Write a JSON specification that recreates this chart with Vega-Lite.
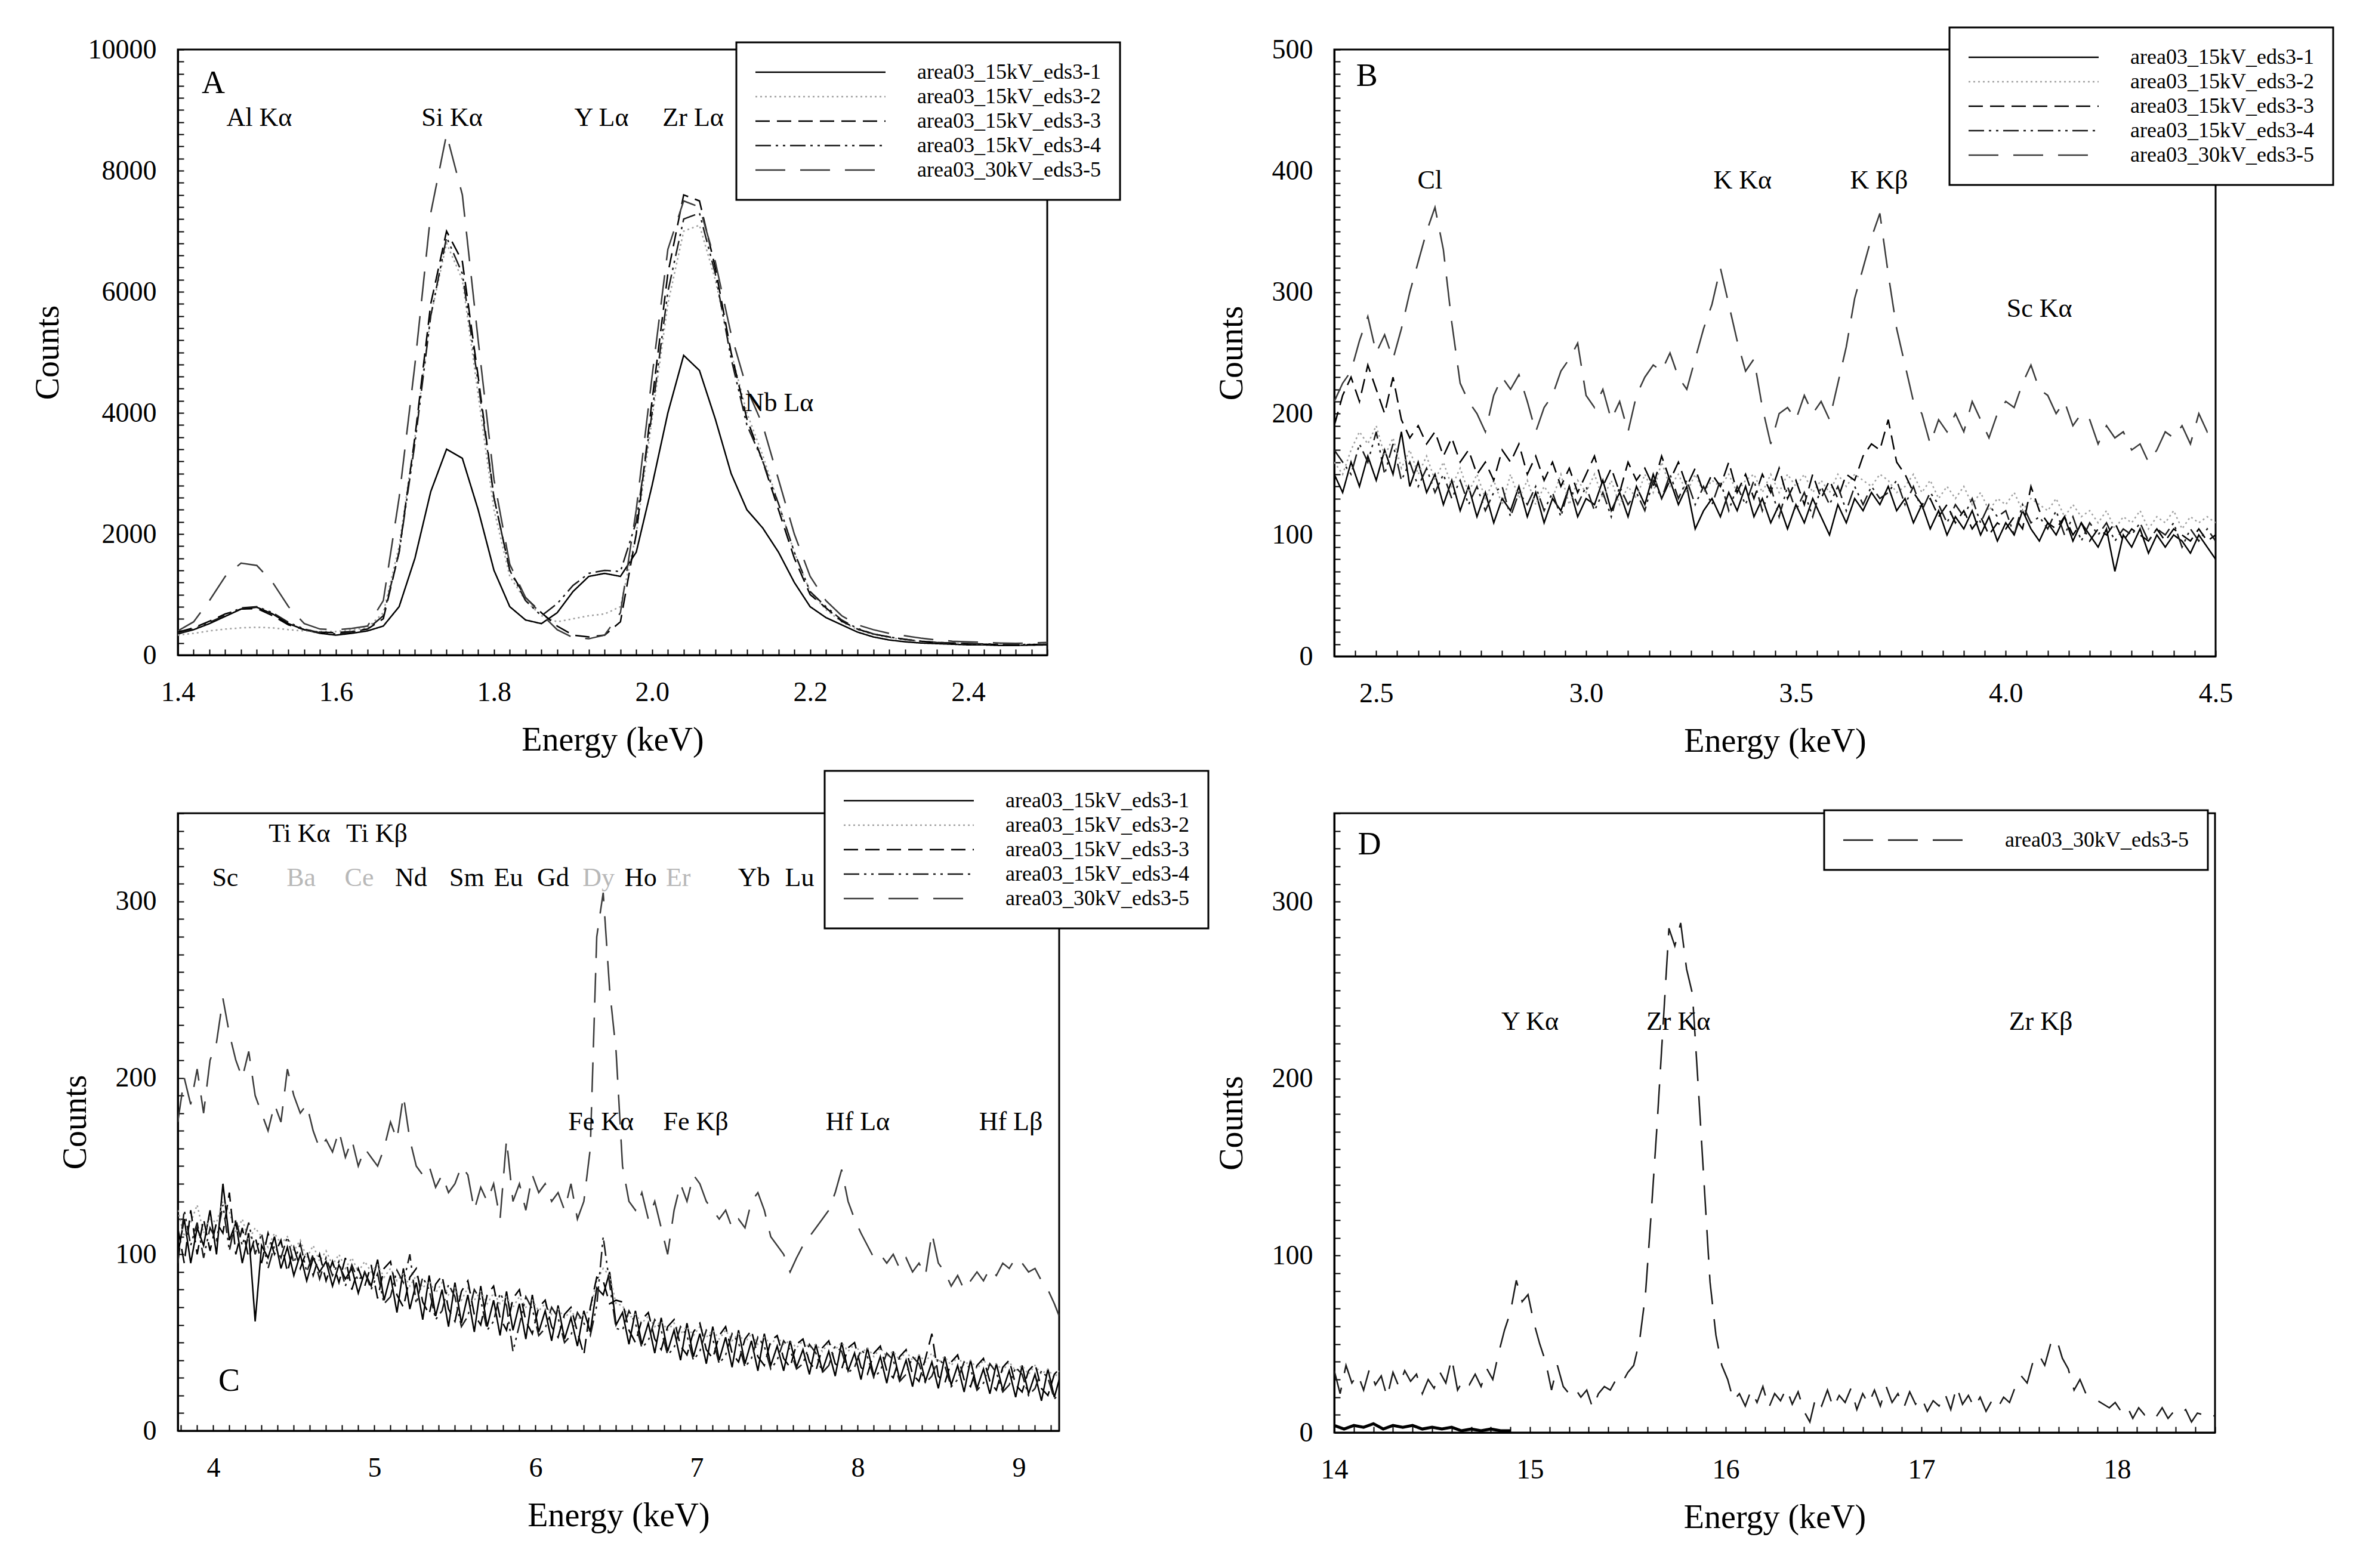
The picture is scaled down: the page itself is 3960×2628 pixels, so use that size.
{
  "$schema": "https://vega.github.io/schema/vega-lite/v6.json",
  "background": "white",
  "padding": {"left": 50, "top": 43, "right": 10, "bottom": 30},
  "config": {
    "font": "Liberation Serif",
    "view": {"stroke": "black", "strokeWidth": 3},
    "axis": {
      "grid": false,
      "domainColor": "black",
      "domainWidth": 3,
      "tickColor": "black",
      "tickWidth": 2,
      "tickSize": -10,
      "labelFont": "Liberation Serif",
      "labelFontSize": 46,
      "labelColor": "black",
      "labelFlush": false,
      "labelOverlap": false,
      "labelBound": false,
      "titleFont": "Liberation Serif",
      "titleFontSize": 56,
      "titleFontWeight": "normal",
      "titleColor": "black"
    },
    "axisX": {"labelPadding": 50, "titlePadding": 30},
    "axisY": {"labelPadding": 46, "titlePadding": 38},
    "legend": {
      "orient": "none",
      "symbolSize": 587,
      "symbolStrokeWidth": 3,
      "symbolOffset": 91,
      "labelFont": "Liberation Serif",
      "labelFontSize": 36,
      "labelColor": "black",
      "labelLimit": 800,
      "labelOffset": 144,
      "padding": 32,
      "rowPadding": 5,
      "strokeColor": "black",
      "strokeWidth": 3,
      "fillColor": "white"
    },
    "line": {"strokeWidth": 2.5},
    "text": {"font": "Liberation Serif", "fontSize": 44, "baseline": "middle", "align": "center", "color": "black"}
  },
  "datasets": {
    "a": [
      {"x":1.40,"s1":350,"s2":330,"s3":380,"s4":360,"s5":400},
      {"x":1.42,"s1":420,"s2":360,"s3":450,"s4":430,"s5":550},
      {"x":1.44,"s1":520,"s2":400,"s3":560,"s4":540,"s5":900},
      {"x":1.46,"s1":640,"s2":430,"s3":680,"s4":660,"s5":1300},
      {"x":1.48,"s1":760,"s2":450,"s3":760,"s4":780,"s5":1520},
      {"x":1.50,"s1":790,"s2":460,"s3":770,"s4":800,"s5":1480},
      {"x":1.52,"s1":680,"s2":450,"s3":650,"s4":700,"s5":1200},
      {"x":1.54,"s1":520,"s2":420,"s3":500,"s4":540,"s5":800},
      {"x":1.56,"s1":420,"s2":400,"s3":420,"s4":430,"s5":520},
      {"x":1.58,"s1":360,"s2":390,"s3":380,"s4":370,"s5":430},
      {"x":1.60,"s1":330,"s2":390,"s3":370,"s4":350,"s5":420},
      {"x":1.62,"s1":360,"s2":420,"s3":390,"s4":380,"s5":440},
      {"x":1.64,"s1":400,"s2":450,"s3":430,"s4":430,"s5":480},
      {"x":1.66,"s1":480,"s2":700,"s3":600,"s4":650,"s5":900},
      {"x":1.68,"s1":800,"s2":1800,"s3":1700,"s4":1700,"s5":2600},
      {"x":1.70,"s1":1600,"s2":3600,"s3":3600,"s4":3500,"s5":4800},
      {"x":1.72,"s1":2700,"s2":5600,"s3":5800,"s4":5600,"s5":7300},
      {"x":1.74,"s1":3400,"s2":6800,"s3":7000,"s4":6900,"s5":8600},
      {"x":1.76,"s1":3250,"s2":6200,"s3":6500,"s4":6300,"s5":7600},
      {"x":1.78,"s1":2400,"s2":4300,"s3":4600,"s4":4500,"s5":5200},
      {"x":1.80,"s1":1400,"s2":2400,"s3":2600,"s4":2600,"s5":2900},
      {"x":1.82,"s1":800,"s2":1300,"s3":1400,"s4":1400,"s5":1500},
      {"x":1.84,"s1":580,"s2":900,"s3":950,"s4":900,"s5":950},
      {"x":1.86,"s1":520,"s2":650,"s3":700,"s4":650,"s5":680},
      {"x":1.88,"s1":700,"s2":550,"s3":480,"s4":850,"s5":420},
      {"x":1.90,"s1":1050,"s2":600,"s3":330,"s4":1150,"s5":290},
      {"x":1.92,"s1":1300,"s2":650,"s3":300,"s4":1350,"s5":270},
      {"x":1.94,"s1":1350,"s2":680,"s3":330,"s4":1400,"s5":330},
      {"x":1.96,"s1":1300,"s2":800,"s3":550,"s4":1380,"s5":700},
      {"x":1.98,"s1":1700,"s2":2000,"s3":2000,"s4":2200,"s5":2400},
      {"x":2.00,"s1":2800,"s2":3900,"s3":4200,"s4":4000,"s5":4600},
      {"x":2.02,"s1":4000,"s2":5800,"s3":6300,"s4":6000,"s5":6700},
      {"x":2.04,"s1":4950,"s2":7000,"s3":7600,"s4":7200,"s5":7500},
      {"x":2.06,"s1":4700,"s2":7100,"s3":7500,"s4":7300,"s5":7400},
      {"x":2.08,"s1":3900,"s2":6200,"s3":6400,"s4":6300,"s5":6500},
      {"x":2.10,"s1":3000,"s2":5000,"s3":5000,"s4":4900,"s5":5300},
      {"x":2.12,"s1":2400,"s2":4000,"s3":3900,"s4":3800,"s5":4400},
      {"x":2.14,"s1":2100,"s2":3300,"s3":3200,"s4":3200,"s5":3800},
      {"x":2.16,"s1":1700,"s2":2500,"s3":2400,"s4":2500,"s5":2900},
      {"x":2.18,"s1":1200,"s2":1700,"s3":1600,"s4":1700,"s5":2000},
      {"x":2.20,"s1":800,"s2":1050,"s3":1000,"s4":1050,"s5":1300},
      {"x":2.22,"s1":620,"s2":750,"s3":780,"s4":800,"s5":900},
      {"x":2.24,"s1":500,"s2":550,"s3":560,"s4":580,"s5":650},
      {"x":2.26,"s1":380,"s2":420,"s3":430,"s4":440,"s5":500},
      {"x":2.28,"s1":300,"s2":340,"s3":350,"s4":350,"s5":420},
      {"x":2.30,"s1":250,"s2":290,"s3":300,"s4":300,"s5":360},
      {"x":2.32,"s1":220,"s2":250,"s3":260,"s4":260,"s5":320},
      {"x":2.34,"s1":200,"s2":230,"s3":230,"s4":230,"s5":280},
      {"x":2.36,"s1":190,"s2":210,"s3":210,"s4":210,"s5":250},
      {"x":2.38,"s1":180,"s2":200,"s3":200,"s4":200,"s5":230},
      {"x":2.40,"s1":170,"s2":190,"s3":190,"s4":190,"s5":220},
      {"x":2.42,"s1":170,"s2":180,"s3":180,"s4":185,"s5":210},
      {"x":2.44,"s1":160,"s2":180,"s3":175,"s4":180,"s5":200},
      {"x":2.46,"s1":160,"s2":175,"s3":170,"s4":175,"s5":195},
      {"x":2.48,"s1":165,"s2":180,"s3":175,"s4":175,"s5":200},
      {"x":2.50,"s1":170,"s2":180,"s3":180,"s4":180,"s5":210}
    ],
    "b": [
      {"x":2.40,"s1":150,"s2":160,"s3":190,"s4":170,"s5":210},
      {"x":2.42,"s1":135,"s2":150,"s3":215,"s4":160,"s5":225},
      {"x":2.44,"s1":160,"s2":170,"s3":230,"s4":150,"s5":235},
      {"x":2.46,"s1":140,"s2":185,"s3":210,"s4":175,"s5":260},
      {"x":2.48,"s1":165,"s2":175,"s3":240,"s4":160,"s5":280},
      {"x":2.50,"s1":145,"s2":190,"s3":220,"s4":185,"s5":250},
      {"x":2.52,"s1":170,"s2":165,"s3":200,"s4":150,"s5":265},
      {"x":2.54,"s1":150,"s2":180,"s3":230,"s4":175,"s5":245},
      {"x":2.56,"s1":185,"s2":155,"s3":195,"s4":145,"s5":270},
      {"x":2.58,"s1":140,"s2":170,"s3":180,"s4":160,"s5":300},
      {"x":2.60,"s1":160,"s2":150,"s3":190,"s4":140,"s5":325},
      {"x":2.62,"s1":135,"s2":165,"s3":175,"s4":155,"s5":350},
      {"x":2.64,"s1":150,"s2":145,"s3":185,"s4":135,"s5":370},
      {"x":2.66,"s1":125,"s2":160,"s3":165,"s4":150,"s5":335},
      {"x":2.68,"s1":145,"s2":140,"s3":180,"s4":130,"s5":275},
      {"x":2.70,"s1":120,"s2":155,"s3":160,"s4":145,"s5":225},
      {"x":2.72,"s1":140,"s2":135,"s3":170,"s4":125,"s5":210},
      {"x":2.74,"s1":115,"s2":150,"s3":150,"s4":140,"s5":200},
      {"x":2.76,"s1":135,"s2":130,"s3":160,"s4":120,"s5":185},
      {"x":2.78,"s1":110,"s2":145,"s3":145,"s4":135,"s5":215},
      {"x":2.80,"s1":130,"s2":125,"s3":170,"s4":140,"s5":230},
      {"x":2.82,"s1":120,"s2":150,"s3":160,"s4":115,"s5":220},
      {"x":2.84,"s1":140,"s2":130,"s3":175,"s4":135,"s5":232},
      {"x":2.86,"s1":115,"s2":145,"s3":150,"s4":125,"s5":210},
      {"x":2.88,"s1":135,"s2":125,"s3":165,"s4":140,"s5":185},
      {"x":2.90,"s1":110,"s2":140,"s3":145,"s4":120,"s5":205},
      {"x":2.92,"s1":130,"s2":130,"s3":160,"s4":135,"s5":215},
      {"x":2.94,"s1":120,"s2":150,"s3":140,"s4":115,"s5":235},
      {"x":2.96,"s1":140,"s2":125,"s3":155,"s4":140,"s5":245},
      {"x":2.98,"s1":115,"s2":145,"s3":135,"s4":125,"s5":258},
      {"x":3.00,"s1":130,"s2":135,"s3":150,"s4":140,"s5":215},
      {"x":3.02,"s1":125,"s2":150,"s3":165,"s4":120,"s5":205},
      {"x":3.04,"s1":145,"s2":130,"s3":140,"s4":135,"s5":220},
      {"x":3.06,"s1":120,"s2":145,"s3":155,"s4":115,"s5":195},
      {"x":3.08,"s1":135,"s2":125,"s3":135,"s4":140,"s5":210},
      {"x":3.10,"s1":115,"s2":140,"s3":160,"s4":125,"s5":185},
      {"x":3.12,"s1":140,"s2":130,"s3":145,"s4":135,"s5":215},
      {"x":3.14,"s1":125,"s2":150,"s3":155,"s4":120,"s5":230},
      {"x":3.16,"s1":150,"s2":135,"s3":140,"s4":145,"s5":240},
      {"x":3.18,"s1":130,"s2":160,"s3":165,"s4":130,"s5":235},
      {"x":3.20,"s1":145,"s2":140,"s3":145,"s4":150,"s5":250},
      {"x":3.22,"s1":125,"s2":150,"s3":160,"s4":130,"s5":230},
      {"x":3.24,"s1":140,"s2":135,"s3":140,"s4":145,"s5":220},
      {"x":3.26,"s1":105,"s2":150,"s3":155,"s4":125,"s5":245},
      {"x":3.28,"s1":120,"s2":135,"s3":135,"s4":140,"s5":270},
      {"x":3.30,"s1":130,"s2":145,"s3":150,"s4":125,"s5":290},
      {"x":3.32,"s1":115,"s2":140,"s3":140,"s4":145,"s5":320},
      {"x":3.34,"s1":135,"s2":150,"s3":160,"s4":120,"s5":290},
      {"x":3.36,"s1":120,"s2":135,"s3":135,"s4":140,"s5":260},
      {"x":3.38,"s1":140,"s2":145,"s3":150,"s4":125,"s5":235},
      {"x":3.40,"s1":115,"s2":150,"s3":130,"s4":145,"s5":245},
      {"x":3.42,"s1":130,"s2":135,"s3":150,"s4":120,"s5":205},
      {"x":3.44,"s1":110,"s2":150,"s3":135,"s4":140,"s5":175},
      {"x":3.46,"s1":125,"s2":135,"s3":155,"s4":115,"s5":200},
      {"x":3.48,"s1":105,"s2":150,"s3":130,"s4":140,"s5":205},
      {"x":3.50,"s1":125,"s2":140,"s3":145,"s4":120,"s5":195},
      {"x":3.52,"s1":110,"s2":150,"s3":125,"s4":135,"s5":215},
      {"x":3.54,"s1":130,"s2":135,"s3":150,"s4":115,"s5":200},
      {"x":3.56,"s1":115,"s2":145,"s3":130,"s4":140,"s5":210},
      {"x":3.58,"s1":100,"s2":135,"s3":145,"s4":125,"s5":195},
      {"x":3.60,"s1":125,"s2":150,"s3":130,"s4":140,"s5":225},
      {"x":3.62,"s1":110,"s2":140,"s3":150,"s4":120,"s5":255},
      {"x":3.64,"s1":130,"s2":150,"s3":145,"s4":140,"s5":295},
      {"x":3.66,"s1":120,"s2":145,"s3":165,"s4":125,"s5":320},
      {"x":3.68,"s1":135,"s2":140,"s3":175,"s4":140,"s5":345},
      {"x":3.70,"s1":125,"s2":150,"s3":170,"s4":130,"s5":365},
      {"x":3.72,"s1":140,"s2":145,"s3":195,"s4":135,"s5":315},
      {"x":3.74,"s1":120,"s2":135,"s3":160,"s4":145,"s5":270},
      {"x":3.76,"s1":130,"s2":140,"s3":150,"s4":125,"s5":240},
      {"x":3.78,"s1":110,"s2":150,"s3":135,"s4":140,"s5":210},
      {"x":3.80,"s1":125,"s2":135,"s3":125,"s4":120,"s5":200},
      {"x":3.82,"s1":105,"s2":145,"s3":130,"s4":135,"s5":175},
      {"x":3.84,"s1":120,"s2":130,"s3":115,"s4":125,"s5":195},
      {"x":3.86,"s1":100,"s2":140,"s3":125,"s4":110,"s5":185},
      {"x":3.88,"s1":115,"s2":130,"s3":110,"s4":125,"s5":200},
      {"x":3.90,"s1":105,"s2":140,"s3":120,"s4":115,"s5":185},
      {"x":3.92,"s1":120,"s2":125,"s3":105,"s4":130,"s5":210},
      {"x":3.94,"s1":100,"s2":135,"s3":115,"s4":110,"s5":195},
      {"x":3.96,"s1":115,"s2":120,"s3":100,"s4":125,"s5":180},
      {"x":3.98,"s1":95,"s2":130,"s3":110,"s4":115,"s5":200},
      {"x":4.00,"s1":110,"s2":125,"s3":105,"s4":120,"s5":210},
      {"x":4.02,"s1":100,"s2":135,"s3":115,"s4":100,"s5":205},
      {"x":4.04,"s1":120,"s2":120,"s3":105,"s4":125,"s5":225},
      {"x":4.06,"s1":105,"s2":130,"s3":140,"s4":110,"s5":240},
      {"x":4.08,"s1":95,"s2":125,"s3":120,"s4":115,"s5":220},
      {"x":4.10,"s1":110,"s2":120,"s3":110,"s4":105,"s5":215},
      {"x":4.12,"s1":100,"s2":130,"s3":105,"s4":120,"s5":200},
      {"x":4.14,"s1":115,"s2":115,"s3":115,"s4":100,"s5":210},
      {"x":4.16,"s1":95,"s2":125,"s3":100,"s4":115,"s5":190},
      {"x":4.18,"s1":110,"s2":115,"s3":110,"s4":95,"s5":200},
      {"x":4.20,"s1":100,"s2":120,"s3":95,"s4":110,"s5":195},
      {"x":4.22,"s1":90,"s2":110,"s3":105,"s4":100,"s5":175},
      {"x":4.24,"s1":105,"s2":120,"s3":100,"s4":110,"s5":190},
      {"x":4.26,"s1":70,"s2":105,"s3":110,"s4":95,"s5":180},
      {"x":4.28,"s1":100,"s2":115,"s3":95,"s4":105,"s5":185},
      {"x":4.30,"s1":90,"s2":110,"s3":105,"s4":100,"s5":170},
      {"x":4.32,"s1":105,"s2":120,"s3":100,"s4":110,"s5":175},
      {"x":4.34,"s1":85,"s2":105,"s3":95,"s4":95,"s5":160},
      {"x":4.36,"s1":100,"s2":115,"s3":105,"s4":105,"s5":170},
      {"x":4.38,"s1":90,"s2":110,"s3":95,"s4":100,"s5":185},
      {"x":4.40,"s1":100,"s2":120,"s3":105,"s4":110,"s5":180},
      {"x":4.42,"s1":95,"s2":105,"s3":100,"s4":90,"s5":190},
      {"x":4.44,"s1":85,"s2":115,"s3":95,"s4":105,"s5":175},
      {"x":4.46,"s1":100,"s2":110,"s3":105,"s4":95,"s5":200},
      {"x":4.48,"s1":90,"s2":115,"s3":95,"s4":105,"s5":185},
      {"x":4.50,"s1":80,"s2":110,"s3":100,"s4":95,"s5":195}
    ],
    "c": [
      {"x":3.78,"s1":100,"s2":125,"s3":115,"s4":95,"s5":175},
      {"x":3.82,"s1":120,"s2":110,"s3":95,"s4":125,"s5":200},
      {"x":3.86,"s1":95,"s2":118,"s3":125,"s4":105,"s5":185},
      {"x":3.90,"s1":115,"s2":128,"s3":100,"s4":118,"s5":205},
      {"x":3.94,"s1":105,"s2":112,"s3":120,"s4":98,"s5":180},
      {"x":3.98,"s1":125,"s2":120,"s3":102,"s4":115,"s5":210},
      {"x":4.02,"s1":100,"s2":118,"s3":118,"s4":108,"s5":220},
      {"x":4.06,"s1":140,"s2":130,"s3":112,"s4":128,"s5":245},
      {"x":4.10,"s1":108,"s2":124,"s3":135,"s4":102,"s5":225},
      {"x":4.14,"s1":118,"s2":112,"s3":100,"s4":120,"s5":210},
      {"x":4.18,"s1":95,"s2":120,"s3":115,"s4":105,"s5":200},
      {"x":4.22,"s1":112,"s2":108,"s3":98,"s4":118,"s5":215},
      {"x":4.26,"s1":62,"s2":115,"s3":110,"s4":100,"s5":190},
      {"x":4.30,"s1":105,"s2":110,"s3":95,"s4":112,"s5":180},
      {"x":4.34,"s1":98,"s2":104,"s3":112,"s4":92,"s5":170},
      {"x":4.38,"s1":110,"s2":112,"s3":100,"s4":105,"s5":185},
      {"x":4.42,"s1":92,"s2":106,"s3":108,"s4":98,"s5":175},
      {"x":4.46,"s1":104,"s2":110,"s3":90,"s4":110,"s5":205},
      {"x":4.50,"s1":88,"s2":102,"s3":104,"s4":95,"s5":190},
      {"x":4.54,"s1":100,"s2":108,"s3":92,"s4":106,"s5":180},
      {"x":4.58,"s1":85,"s2":98,"s3":102,"s4":90,"s5":185},
      {"x":4.62,"s1":98,"s2":105,"s3":88,"s4":100,"s5":170},
      {"x":4.66,"s1":90,"s2":96,"s3":100,"s4":86,"s5":160},
      {"x":4.70,"s1":96,"s2":102,"s3":85,"s4":98,"s5":165},
      {"x":4.74,"s1":82,"s2":94,"s3":96,"s4":88,"s5":158},
      {"x":4.78,"s1":94,"s2":100,"s3":84,"s4":96,"s5":170},
      {"x":4.82,"s1":86,"s2":92,"s3":98,"s4":82,"s5":155},
      {"x":4.86,"s1":92,"s2":98,"s3":80,"s4":94,"s5":165},
      {"x":4.90,"s1":78,"s2":90,"s3":92,"s4":85,"s5":150},
      {"x":4.94,"s1":90,"s2":96,"s3":82,"s4":90,"s5":160},
      {"x":4.98,"s1":82,"s2":90,"s3":94,"s4":80,"s5":155},
      {"x":5.02,"s1":97,"s2":94,"s3":75,"s4":89,"s5":150},
      {"x":5.06,"s1":74,"s2":87,"s3":92,"s4":72,"s5":160},
      {"x":5.10,"s1":88,"s2":92,"s3":96,"s4":76,"s5":175},
      {"x":5.14,"s1":67,"s2":85,"s3":77,"s4":91,"s5":165},
      {"x":5.18,"s1":92,"s2":89,"s3":70,"s4":84,"s5":190},
      {"x":5.22,"s1":69,"s2":82,"s3":87,"s4":100,"s5":165},
      {"x":5.26,"s1":84,"s2":88,"s3":92,"s4":72,"s5":150},
      {"x":5.30,"s1":63,"s2":81,"s3":73,"s4":87,"s5":145},
      {"x":5.34,"s1":88,"s2":85,"s3":66,"s4":80,"s5":150},
      {"x":5.38,"s1":65,"s2":78,"s3":83,"s4":63,"s5":138},
      {"x":5.42,"s1":80,"s2":84,"s3":88,"s4":68,"s5":145},
      {"x":5.46,"s1":59,"s2":77,"s3":69,"s4":83,"s5":135},
      {"x":5.50,"s1":84,"s2":81,"s3":62,"s4":76,"s5":140},
      {"x":5.54,"s1":61,"s2":74,"s3":79,"s4":59,"s5":150},
      {"x":5.58,"s1":77,"s2":81,"s3":85,"s4":65,"s5":145},
      {"x":5.62,"s1":56,"s2":74,"s3":66,"s4":80,"s5":125},
      {"x":5.66,"s1":82,"s2":79,"s3":60,"s4":74,"s5":138},
      {"x":5.70,"s1":59,"s2":72,"s3":77,"s4":57,"s5":130},
      {"x":5.74,"s1":74,"s2":78,"s3":82,"s4":62,"s5":140},
      {"x":5.78,"s1":54,"s2":72,"s3":64,"s4":78,"s5":120},
      {"x":5.82,"s1":79,"s2":76,"s3":57,"s4":71,"s5":165},
      {"x":5.86,"s1":57,"s2":70,"s3":75,"s4":45,"s5":130},
      {"x":5.90,"s1":72,"s2":76,"s3":80,"s4":60,"s5":140},
      {"x":5.94,"s1":52,"s2":70,"s3":62,"s4":76,"s5":125},
      {"x":5.98,"s1":77,"s2":74,"s3":55,"s4":69,"s5":145},
      {"x":6.02,"s1":56,"s2":68,"s3":70,"s4":54,"s5":135},
      {"x":6.06,"s1":68,"s2":72,"s3":74,"s4":58,"s5":140},
      {"x":6.10,"s1":51,"s2":66,"s3":59,"s4":70,"s5":130},
      {"x":6.14,"s1":71,"s2":69,"s3":53,"s4":64,"s5":135},
      {"x":6.18,"s1":52,"s2":64,"s3":66,"s4":50,"s5":125},
      {"x":6.22,"s1":64,"s2":68,"s3":70,"s4":54,"s5":140},
      {"x":6.26,"s1":48,"s2":63,"s3":56,"s4":67,"s5":120},
      {"x":6.30,"s1":68,"s2":66,"s3":43,"s4":61,"s5":130},
      {"x":6.34,"s1":56,"s2":68,"s3":70,"s4":54,"s5":160},
      {"x":6.38,"s1":81,"s2":85,"s3":87,"s4":71,"s5":280},
      {"x":6.42,"s1":77,"s2":92,"s3":85,"s4":110,"s5":305},
      {"x":6.46,"s1":90,"s2":88,"s3":72,"s4":83,"s5":250},
      {"x":6.50,"s1":60,"s2":72,"s3":74,"s4":58,"s5":215},
      {"x":6.54,"s1":67,"s2":71,"s3":73,"s4":57,"s5":150},
      {"x":6.58,"s1":49,"s2":64,"s3":57,"s4":68,"s5":130},
      {"x":6.62,"s1":68,"s2":66,"s3":50,"s4":61,"s5":125},
      {"x":6.66,"s1":49,"s2":61,"s3":63,"s4":47,"s5":135},
      {"x":6.70,"s1":61,"s2":65,"s3":67,"s4":51,"s5":120},
      {"x":6.74,"s1":44,"s2":59,"s3":52,"s4":63,"s5":130},
      {"x":6.78,"s1":64,"s2":62,"s3":46,"s4":57,"s5":115},
      {"x":6.82,"s1":45,"s2":57,"s3":59,"s4":43,"s5":100},
      {"x":6.86,"s1":57,"s2":61,"s3":63,"s4":47,"s5":125},
      {"x":6.90,"s1":40,"s2":55,"s3":48,"s4":59,"s5":140},
      {"x":6.94,"s1":61,"s2":59,"s3":43,"s4":54,"s5":130},
      {"x":6.98,"s1":42,"s2":54,"s3":56,"s4":40,"s5":145},
      {"x":7.02,"s1":55,"s2":59,"s3":61,"s4":45,"s5":140},
      {"x":7.06,"s1":38,"s2":53,"s3":46,"s4":57,"s5":130},
      {"x":7.10,"s1":59,"s2":57,"s3":41,"s4":52,"s5":125},
      {"x":7.14,"s1":40,"s2":52,"s3":54,"s4":38,"s5":120},
      {"x":7.18,"s1":53,"s2":57,"s3":59,"s4":43,"s5":125},
      {"x":7.22,"s1":36,"s2":51,"s3":44,"s4":55,"s5":115},
      {"x":7.26,"s1":57,"s2":55,"s3":39,"s4":50,"s5":120},
      {"x":7.30,"s1":38,"s2":50,"s3":52,"s4":36,"s5":115},
      {"x":7.34,"s1":51,"s2":55,"s3":57,"s4":41,"s5":130},
      {"x":7.38,"s1":34,"s2":49,"s3":42,"s4":53,"s5":135},
      {"x":7.42,"s1":55,"s2":53,"s3":37,"s4":48,"s5":125},
      {"x":7.46,"s1":37,"s2":49,"s3":51,"s4":35,"s5":110},
      {"x":7.50,"s1":48,"s2":53,"s3":54,"s4":40,"s5":105},
      {"x":7.54,"s1":34,"s2":49,"s3":41,"s4":51,"s5":100},
      {"x":7.58,"s1":51,"s2":51,"s3":36,"s4":46,"s5":90},
      {"x":7.62,"s1":36,"s2":47,"s3":49,"s4":35,"s5":98},
      {"x":7.66,"s1":46,"s2":51,"s3":52,"s4":38,"s5":105},
      {"x":7.70,"s1":32,"s2":47,"s3":39,"s4":49,"s5":110},
      {"x":7.74,"s1":49,"s2":49,"s3":34,"s4":44,"s5":115},
      {"x":7.78,"s1":34,"s2":45,"s3":47,"s4":33,"s5":120},
      {"x":7.82,"s1":45,"s2":50,"s3":51,"s4":37,"s5":125},
      {"x":7.86,"s1":31,"s2":46,"s3":38,"s4":48,"s5":135},
      {"x":7.90,"s1":50,"s2":50,"s3":35,"s4":45,"s5":148},
      {"x":7.94,"s1":34,"s2":45,"s3":47,"s4":33,"s5":130},
      {"x":7.98,"s1":44,"s2":49,"s3":50,"s4":36,"s5":120},
      {"x":8.02,"s1":29,"s2":44,"s3":36,"s4":46,"s5":112},
      {"x":8.06,"s1":47,"s2":47,"s3":32,"s4":42,"s5":105},
      {"x":8.10,"s1":31,"s2":42,"s3":44,"s4":30,"s5":98},
      {"x":8.14,"s1":42,"s2":47,"s3":48,"s4":34,"s5":100},
      {"x":8.18,"s1":27,"s2":42,"s3":34,"s4":44,"s5":95},
      {"x":8.22,"s1":45,"s2":45,"s3":30,"s4":40,"s5":100},
      {"x":8.26,"s1":29,"s2":40,"s3":42,"s4":28,"s5":92},
      {"x":8.30,"s1":40,"s2":45,"s3":46,"s4":32,"s5":98},
      {"x":8.34,"s1":25,"s2":40,"s3":32,"s4":42,"s5":90},
      {"x":8.38,"s1":43,"s2":43,"s3":28,"s4":38,"s5":95},
      {"x":8.42,"s1":28,"s2":39,"s3":41,"s4":27,"s5":88},
      {"x":8.46,"s1":39,"s2":44,"s3":55,"s4":31,"s5":112},
      {"x":8.50,"s1":24,"s2":39,"s3":31,"s4":41,"s5":95},
      {"x":8.54,"s1":42,"s2":42,"s3":27,"s4":37,"s5":90},
      {"x":8.58,"s1":26,"s2":37,"s3":39,"s4":25,"s5":82},
      {"x":8.62,"s1":37,"s2":42,"s3":43,"s4":29,"s5":88},
      {"x":8.66,"s1":22,"s2":37,"s3":29,"s4":39,"s5":80},
      {"x":8.70,"s1":40,"s2":40,"s3":25,"s4":35,"s5":85},
      {"x":8.74,"s1":24,"s2":35,"s3":37,"s4":23,"s5":90},
      {"x":8.78,"s1":35,"s2":40,"s3":41,"s4":27,"s5":85},
      {"x":8.82,"s1":21,"s2":36,"s3":28,"s4":38,"s5":92},
      {"x":8.86,"s1":38,"s2":38,"s3":23,"s4":33,"s5":88},
      {"x":8.90,"s1":23,"s2":34,"s3":36,"s4":22,"s5":95},
      {"x":8.94,"s1":34,"s2":39,"s3":40,"s4":26,"s5":92},
      {"x":8.98,"s1":19,"s2":34,"s3":26,"s4":36,"s5":98},
      {"x":9.02,"s1":37,"s2":37,"s3":22,"s4":32,"s5":95},
      {"x":9.06,"s1":21,"s2":32,"s3":34,"s4":20,"s5":90},
      {"x":9.10,"s1":32,"s2":37,"s3":38,"s4":24,"s5":92},
      {"x":9.14,"s1":17,"s2":32,"s3":24,"s4":34,"s5":85},
      {"x":9.18,"s1":35,"s2":35,"s3":20,"s4":30,"s5":80},
      {"x":9.22,"s1":19,"s2":30,"s3":32,"s4":18,"s5":72},
      {"x":9.25,"s1":29,"s2":34,"s3":35,"s4":21,"s5":65}
    ],
    "d": [
      {"x":14.00,"s5":35},{"x":14.03,"s5":22},{"x":14.06,"s5":38},{"x":14.09,"s5":28},{"x":14.12,"s5":33},
      {"x":14.15,"s5":24},{"x":14.18,"s5":36},{"x":14.21,"s5":27},{"x":14.24,"s5":32},{"x":14.27,"s5":20},
      {"x":14.30,"s5":34},{"x":14.33,"s5":26},{"x":14.36,"s5":35},{"x":14.39,"s5":29},{"x":14.42,"s5":33},
      {"x":14.45,"s5":22},{"x":14.48,"s5":30},{"x":14.51,"s5":25},{"x":14.54,"s5":34},{"x":14.57,"s5":28},
      {"x":14.60,"s5":42},{"x":14.63,"s5":24},{"x":14.66,"s5":30},{"x":14.69,"s5":27},{"x":14.72,"s5":33},
      {"x":14.75,"s5":26},{"x":14.78,"s5":36},{"x":14.81,"s5":30},{"x":14.84,"s5":45},{"x":14.87,"s5":58},
      {"x":14.90,"s5":68},{"x":14.93,"s5":86},{"x":14.96,"s5":74},{"x":14.99,"s5":78},{"x":15.02,"s5":62},
      {"x":15.05,"s5":50},{"x":15.08,"s5":40},{"x":15.11,"s5":24},{"x":15.14,"s5":38},{"x":15.17,"s5":26},
      {"x":15.20,"s5":22},{"x":15.23,"s5":25},{"x":15.26,"s5":20},{"x":15.29,"s5":24},{"x":15.32,"s5":14},
      {"x":15.35,"s5":22},{"x":15.38,"s5":26},{"x":15.41,"s5":24},{"x":15.44,"s5":30},{"x":15.47,"s5":28},
      {"x":15.50,"s5":34},{"x":15.53,"s5":38},{"x":15.56,"s5":52},{"x":15.59,"s5":78},{"x":15.62,"s5":125},
      {"x":15.65,"s5":175},{"x":15.68,"s5":230},{"x":15.71,"s5":285},{"x":15.74,"s5":275},{"x":15.77,"s5":288},
      {"x":15.80,"s5":262},{"x":15.83,"s5":248},{"x":15.86,"s5":195},{"x":15.89,"s5":140},{"x":15.92,"s5":85},
      {"x":15.95,"s5":55},{"x":15.98,"s5":38},{"x":16.01,"s5":30},{"x":16.04,"s5":18},{"x":16.07,"s5":22},
      {"x":16.10,"s5":15},{"x":16.13,"s5":24},{"x":16.16,"s5":17},{"x":16.19,"s5":26},{"x":16.22,"s5":14},
      {"x":16.25,"s5":22},{"x":16.28,"s5":18},{"x":16.31,"s5":25},{"x":16.34,"s5":16},{"x":16.37,"s5":23},
      {"x":16.40,"s5":12},{"x":16.43,"s5":6},{"x":16.46,"s5":20},{"x":16.49,"s5":15},{"x":16.52,"s5":24},
      {"x":16.55,"s5":14},{"x":16.58,"s5":21},{"x":16.61,"s5":17},{"x":16.64,"s5":25},{"x":16.67,"s5":13},
      {"x":16.70,"s5":22},{"x":16.73,"s5":16},{"x":16.76,"s5":24},{"x":16.79,"s5":15},{"x":16.82,"s5":26},
      {"x":16.85,"s5":17},{"x":16.88,"s5":22},{"x":16.91,"s5":14},{"x":16.94,"s5":23},{"x":16.97,"s5":16},
      {"x":17.00,"s5":20},{"x":17.03,"s5":12},{"x":17.06,"s5":18},{"x":17.09,"s5":15},{"x":17.12,"s5":22},
      {"x":17.15,"s5":13},{"x":17.18,"s5":26},{"x":17.21,"s5":16},{"x":17.24,"s5":21},{"x":17.27,"s5":14},
      {"x":17.30,"s5":20},{"x":17.33,"s5":12},{"x":17.36,"s5":18},{"x":17.39,"s5":14},{"x":17.42,"s5":20},
      {"x":17.45,"s5":17},{"x":17.48,"s5":26},{"x":17.51,"s5":32},{"x":17.54,"s5":28},{"x":17.57,"s5":40},
      {"x":17.60,"s5":44},{"x":17.63,"s5":38},{"x":17.66,"s5":50},{"x":17.69,"s5":53},{"x":17.72,"s5":42},
      {"x":17.75,"s5":36},{"x":17.78,"s5":24},{"x":17.81,"s5":30},{"x":17.84,"s5":22},{"x":17.87,"s5":20},
      {"x":17.90,"s5":18},{"x":17.93,"s5":16},{"x":17.96,"s5":14},{"x":17.99,"s5":17},{"x":18.02,"s5":12},
      {"x":18.05,"s5":15},{"x":18.08,"s5":8},{"x":18.11,"s5":14},{"x":18.14,"s5":10},{"x":18.17,"s5":12},
      {"x":18.20,"s5":9},{"x":18.23,"s5":14},{"x":18.26,"s5":8},{"x":18.29,"s5":12},{"x":18.32,"s5":10},
      {"x":18.35,"s5":13},{"x":18.38,"s5":6},{"x":18.41,"s5":11},{"x":18.44,"s5":10},{"x":18.47,"s5":12},
      {"x":18.50,"s5":9}
    ],
    "dlow": [
      {"x":14.00,"y":4},{"x":14.05,"y":2},{"x":14.10,"y":4},{"x":14.15,"y":3},{"x":14.20,"y":5},
      {"x":14.25,"y":2},{"x":14.30,"y":4},{"x":14.35,"y":3},{"x":14.40,"y":4},{"x":14.45,"y":2},
      {"x":14.50,"y":3},{"x":14.55,"y":2},{"x":14.60,"y":3},{"x":14.65,"y":1},{"x":14.70,"y":2},
      {"x":14.75,"y":1},{"x":14.80,"y":2},{"x":14.85,"y":1},{"x":14.90,"y":1}
    ],
    "la": [
      {"x":1.503,"y":8870,"t":"Al Kα"},
      {"x":1.747,"y":8870,"t":"Si Kα"},
      {"x":1.936,"y":8870,"t":"Y Lα"},
      {"x":2.052,"y":8870,"t":"Zr Lα"},
      {"x":2.161,"y":4158,"t":"Nb Lα"}
    ],
    "lb": [
      {"x":2.628,"y":392,"t":"Cl"},
      {"x":3.373,"y":392,"t":"K Kα"},
      {"x":3.698,"y":392,"t":"K Kβ"},
      {"x":4.08,"y":286,"t":"Sc Kα"}
    ],
    "lc": [
      {"x":4.535,"y":338,"t":"Ti Kα","tone":"k"},
      {"x":5.015,"y":338,"t":"Ti Kβ","tone":"k"},
      {"x":4.074,"y":313,"t":"Sc","tone":"k"},
      {"x":4.545,"y":313,"t":"Ba","tone":"g"},
      {"x":4.906,"y":313,"t":"Ce","tone":"g"},
      {"x":5.228,"y":313,"t":"Nd","tone":"k"},
      {"x":5.574,"y":313,"t":"Sm","tone":"k"},
      {"x":5.832,"y":313,"t":"Eu","tone":"k"},
      {"x":6.109,"y":313,"t":"Gd","tone":"k"},
      {"x":6.391,"y":313,"t":"Dy","tone":"g"},
      {"x":6.653,"y":313,"t":"Ho","tone":"k"},
      {"x":6.886,"y":313,"t":"Er","tone":"g"},
      {"x":7.356,"y":313,"t":"Yb","tone":"k"},
      {"x":7.639,"y":313,"t":"Lu","tone":"k"},
      {"x":6.406,"y":175,"t":"Fe Kα","tone":"k"},
      {"x":6.995,"y":175,"t":"Fe Kβ","tone":"k"},
      {"x":8.0,"y":175,"t":"Hf Lα","tone":"k"},
      {"x":8.95,"y":175,"t":"Hf Lβ","tone":"k"}
    ],
    "ld": [
      {"x":15.0,"y":232,"t":"Y Kα"},
      {"x":15.758,"y":232,"t":"Zr Kα"},
      {"x":17.61,"y":232,"t":"Zr Kβ"}
    ]
  },
  "columns": 2,
  "bounds": "flush",
  "spacing": {"row": 263, "column": 461},
  "resolve": {
    "scale": {"color": "independent", "strokeDash": "independent", "fill": "independent"},
    "legend": {"color": "independent", "strokeDash": "independent"}
  },
  "concat": [
    {
      "width": 1457,
      "height": 1015,
      "encoding": {
        "x": {
          "field": "x", "type": "quantitative", "title": "Energy (keV)",
          "scale": {"domain": [1.4, 2.5], "nice": false, "zero": false},
          "axis": {"tickCount": 55, "labelExpr": "abs(datum.value*5-round(datum.value*5))<1e-6 ? format(datum.value,'.1f') : ''"}
        },
        "y": {
          "field": "y", "type": "quantitative", "title": "Counts",
          "scale": {"domain": [0, 10000], "nice": false},
          "axis": {"tickCount": 50, "labelExpr": "datum.value % 2000 == 0 ? format(datum.value,'d') : ''"}
        }
      },
      "layer": [
        {
          "data": {"name": "a"},
          "transform": [{"fold": ["s1", "s2", "s3", "s4", "s5"], "as": ["series", "y"]}],
          "mark": {"type": "line", "clip": true},
          "encoding": {
            "color": {
              "field": "series", "type": "nominal",
              "scale": {"domain": ["s1", "s2", "s3", "s4", "s5"], "range": ["#000000", "#a0a0a0", "#000000", "#1a1a1a", "#3a3a3a"]},
              "legend": {"title": null, "symbolType": "M-9,0H9", "legendX": 936, "legendY": -12, "labelExpr": "'area03_' + (datum.label == 's5' ? '30kV' : '15kV') + '_eds3-' + substring(datum.label, 1)"}
            },
            "strokeDash": {
              "field": "series", "type": "nominal",
              "scale": {"domain": ["s1", "s2", "s3", "s4", "s5"], "range": [[1, 0], [3, 5], [24, 12], [26, 8, 4, 8, 4, 8], [50, 25]]},
              "legend": {"title": null, "symbolType": "M-9,0H9", "legendX": 936, "legendY": -12, "labelExpr": "'area03_' + (datum.label == 's5' ? '30kV' : '15kV') + '_eds3-' + substring(datum.label, 1)"}
            }
          }
        },
        {"data": {"name": "la"}, "mark": {"type": "text"}, "encoding": {"text": {"field": "t"}}},
        {"data": {"values": [{"x": 1.445, "y": 9443, "t": "A"}]}, "mark": {"type": "text", "fontSize": 54}, "encoding": {"text": {"field": "t"}}}
      ]
    },
    {
      "width": 1477,
      "height": 1017,
      "encoding": {
        "x": {
          "field": "x", "type": "quantitative", "title": "Energy (keV)",
          "scale": {"domain": [2.4, 4.5], "nice": false, "zero": false},
          "axis": {"tickCount": 42, "labelExpr": "abs(datum.value*2-round(datum.value*2))<1e-6 ? format(datum.value,'.1f') : ''"}
        },
        "y": {
          "field": "y", "type": "quantitative", "title": "Counts",
          "scale": {"domain": [0, 500], "nice": false},
          "axis": {"tickCount": 50, "labelExpr": "datum.value % 100 == 0 ? format(datum.value,'d') : ''"}
        }
      },
      "layer": [
        {
          "data": {"name": "b"},
          "transform": [{"fold": ["s1", "s2", "s3", "s4", "s5"], "as": ["series", "y"]}],
          "mark": {"type": "line", "clip": true},
          "encoding": {
            "color": {
              "field": "series", "type": "nominal",
              "scale": {"domain": ["s1", "s2", "s3", "s4", "s5"], "range": ["#000000", "#a0a0a0", "#000000", "#1a1a1a", "#3a3a3a"]},
              "legend": {"title": null, "symbolType": "M-9,0H9", "legendX": 1031, "legendY": -37, "labelExpr": "'area03_' + (datum.label == 's5' ? '30kV' : '15kV') + '_eds3-' + substring(datum.label, 1)"}
            },
            "strokeDash": {
              "field": "series", "type": "nominal",
              "scale": {"domain": ["s1", "s2", "s3", "s4", "s5"], "range": [[1, 0], [3, 5], [24, 12], [26, 8, 4, 8, 4, 8], [50, 25]]},
              "legend": {"title": null, "symbolType": "M-9,0H9", "legendX": 1031, "legendY": -37, "labelExpr": "'area03_' + (datum.label == 's5' ? '30kV' : '15kV') + '_eds3-' + substring(datum.label, 1)"}
            }
          }
        },
        {"data": {"name": "lb"}, "mark": {"type": "text"}, "encoding": {"text": {"field": "t"}}},
        {"data": {"values": [{"x": 2.478, "y": 478, "t": "B"}]}, "mark": {"type": "text", "fontSize": 54}, "encoding": {"text": {"field": "t"}}}
      ]
    },
    {
      "width": 1477,
      "height": 1035,
      "encoding": {
        "x": {
          "field": "x", "type": "quantitative", "title": "Energy (keV)",
          "scale": {"domain": [3.78, 9.25], "nice": false, "zero": false},
          "axis": {"tickCount": 55, "labelExpr": "abs(datum.value-round(datum.value))<1e-6 ? format(datum.value,'d') : ''"}
        },
        "y": {
          "field": "y", "type": "quantitative", "title": "Counts",
          "scale": {"domain": [0, 350], "nice": false},
          "axis": {"tickCount": 35, "labelExpr": "datum.value % 100 == 0 ? format(datum.value,'d') : ''"}
        }
      },
      "layer": [
        {
          "data": {"name": "c"},
          "transform": [{"fold": ["s1", "s2", "s3", "s4", "s5"], "as": ["series", "y"]}],
          "mark": {"type": "line", "clip": true},
          "encoding": {
            "color": {
              "field": "series", "type": "nominal",
              "scale": {"domain": ["s1", "s2", "s3", "s4", "s5"], "range": ["#000000", "#a0a0a0", "#000000", "#1a1a1a", "#3a3a3a"]},
              "legend": {"title": null, "symbolType": "M-9,0H9", "legendX": 1084, "legendY": -71, "labelExpr": "'area03_' + (datum.label == 's5' ? '30kV' : '15kV') + '_eds3-' + substring(datum.label, 1)"}
            },
            "strokeDash": {
              "field": "series", "type": "nominal",
              "scale": {"domain": ["s1", "s2", "s3", "s4", "s5"], "range": [[1, 0], [3, 5], [24, 12], [26, 8, 4, 8, 4, 8], [50, 25]]},
              "legend": {"title": null, "symbolType": "M-9,0H9", "legendX": 1084, "legendY": -71, "labelExpr": "'area03_' + (datum.label == 's5' ? '30kV' : '15kV') + '_eds3-' + substring(datum.label, 1)"}
            }
          }
        },
        {
          "data": {"name": "lc"},
          "mark": {"type": "text"},
          "encoding": {
            "text": {"field": "t"},
            "fill": {"field": "tone", "type": "nominal", "scale": {"domain": ["k", "g"], "range": ["#000000", "#b8b8b8"]}, "legend": null}
          }
        },
        {"data": {"values": [{"x": 4.099, "y": 28, "t": "C"}]}, "mark": {"type": "text", "fontSize": 54}, "encoding": {"text": {"field": "t"}}}
      ]
    },
    {
      "width": 1476,
      "height": 1038,
      "encoding": {
        "x": {
          "field": "x", "type": "quantitative", "title": "Energy (keV)",
          "scale": {"domain": [14, 18.5], "nice": false, "zero": false},
          "axis": {"tickCount": 45, "labelExpr": "abs(datum.value-round(datum.value))<1e-6 ? format(datum.value,'d') : ''"}
        },
        "y": {
          "field": "y", "type": "quantitative", "title": "Counts",
          "scale": {"domain": [0, 350], "nice": false},
          "axis": {"tickCount": 35, "labelExpr": "datum.value % 100 == 0 ? format(datum.value,'d') : ''"}
        }
      },
      "layer": [
        {
          "data": {"name": "d"},
          "transform": [{"fold": ["s5"], "as": ["series", "y"]}],
          "mark": {"type": "line", "clip": true},
          "encoding": {
            "color": {
              "field": "series", "type": "nominal",
              "scale": {"domain": ["s5"], "range": ["#1a1a1a"]},
              "legend": {"title": null, "symbolType": "M-9,0H9", "legendX": 821, "legendY": -5, "labelExpr": "'area03_30kV_eds3-5'"}
            },
            "strokeDash": {
              "field": "series", "type": "nominal",
              "scale": {"domain": ["s5"], "range": [[50, 25]]},
              "legend": {"title": null, "symbolType": "M-9,0H9", "legendX": 821, "legendY": -5, "labelExpr": "'area03_30kV_eds3-5'"}
            }
          }
        },
        {"data": {"name": "dlow"}, "mark": {"type": "line", "color": "black", "strokeWidth": 5}, "encoding": {}},
        {"data": {"name": "ld"}, "mark": {"type": "text"}, "encoding": {"text": {"field": "t"}}},
        {"data": {"values": [{"x": 14.18, "y": 332, "t": "D"}]}, "mark": {"type": "text", "fontSize": 54}, "encoding": {"text": {"field": "t"}}}
      ]
    }
  ]
}
